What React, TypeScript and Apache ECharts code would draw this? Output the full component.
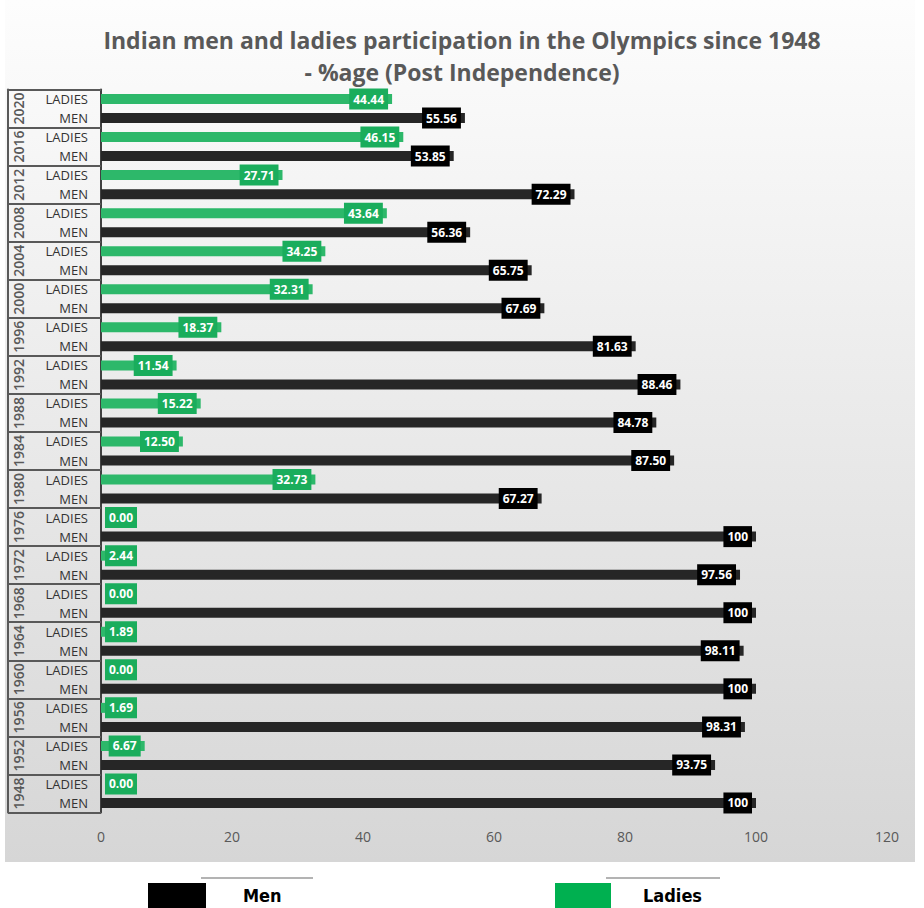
import * as echarts from "echarts";
import { useEffect, useRef } from "react";

const years = [
  "1948", "1952", "1956", "1960", "1964", "1968", "1972", "1976", "1980", "1984",
  "1988", "1992", "1996", "2000", "2004", "2008", "2012", "2016", "2020",
];
const menShare = [
  100, 93.75, 98.31, 100, 98.11, 100, 97.56, 100, 67.27, 87.5, 84.78, 88.46,
  81.63, 67.69, 65.75, 56.36, 72.29, 53.85, 55.56,
];
const ladiesShare = [
  0, 6.67, 1.69, 0, 1.89, 0, 2.44, 0, 32.73, 12.5, 15.22, 11.54, 18.37, 32.31,
  34.25, 43.64, 27.71, 46.15, 44.44,
];
const xTicks = { min: 0, max: 120, interval: 20 };

const FONT = "'Open Sans', sans-serif";
const NARROW = "'Liberation Sans Narrow', 'DejaVu Sans Condensed', sans-serif";

// two rows per year: MEN below, LADIES above
const rows = years.flatMap((y) => [`${y}|MEN`, `${y}|LADIES`]);

function fmt(v: number) {
  return v === 100 ? "100" : v.toFixed(2);
}

function rowData(values: number[], slot: number) {
  return rows.map((_, i) => {
    if (i % 2 !== slot) return "-";
    const v = values[Math.floor(i / 2)];
    // short bars: label sits after the axis instead of inside the bar end
    return v < 6 ? { value: v, label: { position: "insideLeft" } } : v;
  });
}

export default function App() {
  const ref = useRef<HTMLDivElement>(null);

  useEffect(() => {
    document.body.style.margin = "0";
    if (!ref.current) return;
    const chart = echarts.init(ref.current, null, { renderer: "svg" });

    const label = (bg: string) => ({
      show: true,
      position: "insideRight",
      distance: 4,
      color: "#fff",
      fontFamily: FONT,
      fontWeight: "bold",
      fontSize: 12,
      lineHeight: 15,
      backgroundColor: bg,
      padding: [3, 4],
      formatter: (p: any) => fmt(Number(p.value)),
    });

    chart.setOption({
      animation: false,
      backgroundColor: "#fff",
      title: {
        text: "Indian men and ladies participation in the Olympics since 1948\n- %age (Post Independence)",
        left: "center",
        top: 19,
        textStyle: {
          fontFamily: FONT,
          fontWeight: "bold",
          fontSize: 23,
          lineHeight: 32,
          color: "#595959",
        },
      },
      graphic: [
        {
          type: "rect",
          z: -10,
          silent: true,
          shape: { x: 5, y: 0, width: 910, height: 862 },
          style: {
            fill: new echarts.graphic.LinearGradient(0, 0, 0, 1, [
              { offset: 0, color: "#fdfdfd" },
              { offset: 1, color: "#d6d6d6" },
            ]),
          },
        },
        {
          type: "line",
          silent: true,
          shape: { x1: 201, y1: 878, x2: 313, y2: 878 },
          style: { stroke: "#9a9a9a", lineWidth: 1.5 },
        },
        {
          type: "line",
          silent: true,
          shape: { x1: 606, y1: 878, x2: 720, y2: 878 },
          style: { stroke: "#9a9a9a", lineWidth: 1.5 },
        },
      ],
      legend: [
        {
          data: [{ name: "Men", itemStyle: { color: "#000" } }],
          left: 143,
          top: 878,
          icon: "rect",
          itemWidth: 58,
          itemHeight: 25,
          textStyle: {
            fontFamily: NARROW,
            fontWeight: "bold",
            fontSize: 18,
            color: "#000",
            padding: [0, 0, 0, 32],
          },
        },
        {
          data: [{ name: "Ladies", itemStyle: { color: "#00b050" } }],
          left: 550,
          top: 878,
          icon: "rect",
          itemWidth: 56,
          itemHeight: 25,
          textStyle: {
            fontFamily: NARROW,
            fontWeight: "bold",
            fontSize: 18,
            color: "#000",
            padding: [0, 0, 0, 27],
          },
        },
      ],
      grid: { left: 101, right: 37, top: 89.5, bottom: 95.5 },
      xAxis: {
        type: "value",
        ...xTicks,
        splitLine: { show: false },
        axisLine: { show: false },
        axisTick: { show: false },
        axisLabel: {
          color: "#595959",
          fontFamily: FONT,
          fontSize: 14,
          margin: 17,
        },
      },
      yAxis: [
        {
          type: "category",
          data: rows,
          axisLine: { show: true, lineStyle: { color: "#404040", width: 2 } },
          axisTick: { show: false },
          axisLabel: {
            interval: 0,
            color: "#333",
            fontFamily: FONT,
            fontSize: 13,
            margin: 13,
            formatter: (v: string) => v.split("|")[1],
          },
        },
        {
          type: "category",
          data: years,
          position: "left",
          axisLine: { show: false },
          axisTick: {
            show: true,
            interval: 0,
            length: 93,
            lineStyle: { color: "#595959", width: 2 },
          },
          axisLabel: {
            interval: 0,
            rotate: 90,
            color: "#595959",
            fontFamily: FONT,
            fontWeight: 600,
            fontSize: 14,
            margin: 76,
          },
        },
        {
          type: "category",
          data: years,
          position: "left",
          offset: 93,
          axisLine: { show: true, lineStyle: { color: "#595959", width: 2 } },
          axisTick: { show: false },
          axisLabel: { show: false },
        },
      ],
      series: [
        {
          name: "Men",
          type: "bar",
          yAxisIndex: 0,
          barWidth: 10,
          barGap: "-100%",
          itemStyle: { color: "#262626" },
          label: label("#000"),
          data: rowData(menShare, 0),
        },
        {
          name: "Ladies",
          type: "bar",
          yAxisIndex: 0,
          barWidth: 10,
          barGap: "-100%",
          itemStyle: { color: "#2db86a" },
          label: label("#1aad5c"),
          data: rowData(ladiesShare, 1),
        },
      ],
    });

    return () => chart.dispose();
  }, []);

  return <div ref={ref} style={{ width: 924, height: 908 }} />;
}
